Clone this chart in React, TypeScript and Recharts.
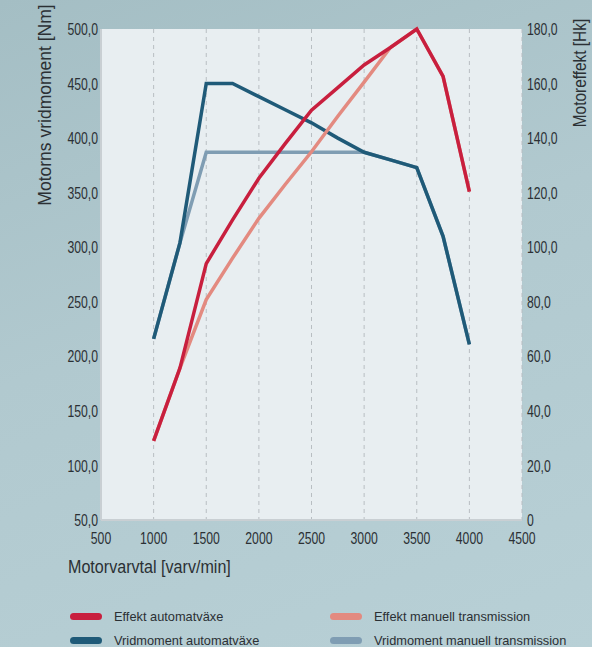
import React from "react"
import { LineChart, Line, XAxis, YAxis, CartesianGrid } from "recharts"

const rpm = [1000, 1250, 1500, 1750, 2000, 2250, 2500, 2750, 3000, 3250, 3500, 3750, 4000]
const effektAuto = [29, 55.7, 94, 110, 125.3, 138, 150.2, 158.5, 166.8, 173.2, 180, 162.6, 120.4]
const effektManuell = [29, 55.7, 80.8, 96, 110.6, 123, 135, 148, 160.5, 173.2, 180, 162.6, 120.4]
const vridAuto = [216, 304, 450, 450, 438, 426, 414, 400, 387, 380, 373, 310, 211]
const vridManuell = [216, 304, 387, 387, 387, 387, 387, 387, 387, 380, 373, 310, 211]

const xTicks = [500, 1000, 1500, 2000, 2500, 3000, 3500, 4000, 4500]
const leftTicks = [50, 100, 150, 200, 250, 300, 350, 400, 450, 500]
const rightTicks = [0, 20, 40, 60, 80, 100, 120, 140, 160, 180]

const RED = "#c81f3e"
const PINK = "#e38a80"
const DARK = "#1f5a78"
const LIGHT = "#7f9db3"
const TEXT = "#2b3034"

const FONT = "'Liberation Sans', Arial, sans-serif"
const SQUEEZE = 0.72

const data = rpm.map((r, i) => ({
  rpm: r,
  effektAuto: effektAuto[i],
  effektManuell: effektManuell[i],
  vridAuto: vridAuto[i],
  vridManuell: vridManuell[i],
}))

const fmt = (v: number) => (v === 0 ? "0" : v.toFixed(1).replace(".", ","))

const legend = [
  { name: "Effekt automatväxe", color: RED, x: 70, y: 616 },
  { name: "Effekt manuell transmission", color: PINK, x: 330, y: 616 },
  { name: "Vridmoment automatväxe", color: DARK, x: 70, y: 640 },
  { name: "Vridmoment manuell transmission", color: LIGHT, x: 330, y: 640 },
]

// condensed-looking tick text
function NarrowTick(props: any) {
  const { x, y, payload, anchor, dy, format } = props
  const label = format ? format(payload.value) : String(payload.value)
  return (
    <g transform={`translate(${x},${y})`}>
      <text
        transform={`scale(${SQUEEZE},1)`}
        textAnchor={anchor}
        dy={dy}
        fill={TEXT}
        fontSize={17}
        fontFamily={FONT}
      >
        {label}
      </text>
    </g>
  )
}

function Title({ children, style }: { children: React.ReactNode; style: React.CSSProperties }) {
  return (
    <div
      style={{
        position: "absolute",
        whiteSpace: "nowrap",
        fontFamily: FONT,
        fontSize: 17.5,
        lineHeight: "20px",
        color: TEXT,
        ...style,
      }}
    >
      {children}
    </div>
  )
}

export default function App() {
  return (
    <div
      style={{
        position: "fixed",
        left: 0,
        top: 0,
        width: 592,
        height: 647,
        overflow: "hidden",
        background: "linear-gradient(160deg, #a4bec4 0%, #b1c9cf 45%, #b8d0d6 100%)",
        fontFamily: FONT,
      }}
    >
      <LineChart
        width={592}
        height={647}
        data={data}
        margin={{ top: 29, right: 0, bottom: 87, left: 0 }}
      >
        <CartesianGrid
          fill="#e8eef1"
          stroke="#b8bec2"
          strokeDasharray="4 4"
          horizontalValues={leftTicks}
          verticalValues={xTicks}
        />
        <XAxis
          dataKey="rpm"
          type="number"
          domain={[500, 4500]}
          ticks={xTicks}
          tickLine={false}
          tickSize={0}
          axisLine={{ stroke: "#c9cfd3", strokeWidth: 2 }}
          tick={<NarrowTick anchor="middle" dy="0.71em" />}
          tickMargin={12}
          height={40}
          interval={0}
        />
        <YAxis
          yAxisId="nm"
          domain={[50, 500]}
          ticks={leftTicks}
          tickLine={false}
          tickSize={0}
          axisLine={{ stroke: "#c9cfd3", strokeWidth: 2 }}
          tick={<NarrowTick anchor="end" dy="0.36em" format={fmt} />}
          tickMargin={3}
          width={101}
          interval={0}
        />
        <YAxis
          yAxisId="hk"
          orientation="right"
          domain={[0, 180]}
          ticks={rightTicks}
          tickLine={false}
          tickSize={0}
          axisLine={false}
          tick={<NarrowTick anchor="start" dy="0.36em" format={fmt} />}
          tickMargin={5}
          width={70}
          interval={0}
        />
        <Line yAxisId="nm" dataKey="vridManuell" stroke={LIGHT} strokeWidth={3.5} dot={false} isAnimationActive={false} />
        <Line yAxisId="nm" dataKey="vridAuto" stroke={DARK} strokeWidth={3.5} dot={false} isAnimationActive={false} />
        <Line yAxisId="hk" dataKey="effektManuell" stroke={PINK} strokeWidth={3.5} dot={false} isAnimationActive={false} />
        <Line yAxisId="hk" dataKey="effektAuto" stroke={RED} strokeWidth={3.5} dot={false} isAnimationActive={false} />
      </LineChart>

      <Title style={{ left: 45, top: 105, transform: "translate(-50%, -50%) rotate(-90deg)" }}>
        Motorns vridmoment [Nm]
      </Title>
      <Title style={{ left: 580, top: 73, transform: "translate(-50%, -50%) rotate(-90deg) scale(0.88, 1)" }}>
        Motoreffekt [Hk]
      </Title>
      <Title style={{ left: 68, top: 557, transform: "scale(0.92, 1)", transformOrigin: "left center" }}>
        Motorvarvtal [varv/min]
      </Title>

      {legend.map((l) => (
        <div
          key={l.name}
          style={{
            position: "absolute",
            left: l.x,
            top: l.y - 8,
            height: 16,
            display: "flex",
            alignItems: "center",
            whiteSpace: "nowrap",
            fontSize: 12.8,
            color: TEXT,
          }}
        >
          <span style={{ width: 32, height: 7, borderRadius: 3.5, background: l.color, marginRight: 12 }} />
          <span>{l.name}</span>
        </div>
      ))}
    </div>
  )
}
